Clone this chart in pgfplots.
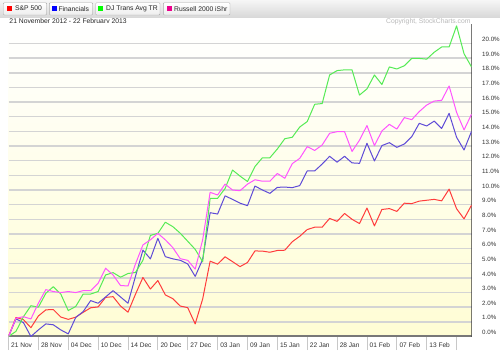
\documentclass[border=0pt]{standalone}
\usepackage{fontspec}
\setmainfont{Liberation Sans}
\usepackage{pgfplots}
\usepackage{pgfplotstable}
\pgfplotsset{compat=1.18}
\definecolor{spx}{RGB}{255,60,60}
\definecolor{fin}{RGB}{95,75,215}
\definecolor{trn}{RGB}{85,235,85}
\definecolor{rut}{RGB}{255,85,255}
\definecolor{gridc}{RGB}{212,212,212}
\definecolor{bgbot}{RGB}{255,253,212}
\definecolor{axc}{RGB}{120,120,120}
\definecolor{sepc}{RGB}{200,200,200}
\definecolor{tickc}{RGB}{50,50,50}
\definecolor{hdrtop}{RGB}{246,246,246}
\definecolor{hdrbot}{RGB}{216,216,216}
\definecolor{btnbd}{RGB}{168,168,168}
\definecolor{copyc}{RGB}{185,185,185}
\pgfplotstableread{
i spx fin trn rut
0 0 0 0 0
1 1.30 1.20 0.35 1.25
2 1.15 0.95 1.35 1.35
3 0.60 0.00 2.10 1.20
4 1.40 0.45 2.00 2.27
5 1.82 0.86 2.95 3.20
6 1.84 0.80 3.40 3.07
7 1.33 0.45 2.90 3.00
8 1.17 0.18 1.77 3.07
9 1.32 1.30 2.05 3.00
10 1.65 1.70 2.90 3.13
11 1.96 2.45 2.90 3.13
12 2.02 2.27 3.07 3.63
13 2.67 2.70 4.20 4.66
14 2.72 3.13 4.36 4.20
15 2.08 2.70 4.05 3.48
16 1.66 2.27 4.30 3.45
17 2.88 4.10 4.37 4.95
18 4.03 5.90 5.20 6.25
19 3.24 5.30 6.90 6.60
20 3.82 6.70 7.04 7.04
21 2.84 5.45 7.80 6.60
22 2.58 5.30 7.50 6.07
23 2.08 5.20 7.05 5.31
24 1.97 4.95 6.50 5.20
25 0.86 4.10 5.95 4.60
26 2.56 5.27 5.10 6.60
27 5.14 8.45 9.43 9.84
28 4.94 8.36 9.43 9.66
29 5.44 9.60 10.10 10.40
30 5.11 9.36 11.36 10.00
31 4.77 9.10 10.95 9.95
32 5.05 8.93 10.58 10.40
33 5.84 10.27 11.60 10.70
34 5.83 10.00 12.20 10.60
35 5.75 9.77 12.20 10.60
36 5.87 10.18 12.80 11.13
37 5.89 10.20 13.50 10.80
38 6.47 10.16 13.60 11.80
39 6.84 10.30 14.30 12.16
40 7.30 11.30 14.67 12.96
41 7.46 11.30 15.85 12.70
42 7.46 11.77 15.90 13.07
43 8.06 12.30 17.85 13.87
44 7.86 11.90 18.15 13.98
45 8.40 12.30 18.20 13.98
46 8.00 11.85 18.20 12.63
47 7.71 11.82 16.48 13.40
48 8.77 13.19 16.90 14.40
49 7.55 11.98 17.85 13.03
50 8.67 13.03 17.20 14.03
51 8.73 13.23 18.40 14.48
52 8.54 12.91 18.26 14.16
53 9.10 13.14 18.48 14.94
54 9.07 13.64 18.98 14.80
55 9.24 14.55 18.98 15.35
56 9.30 14.37 18.93 15.80
57 9.36 14.70 19.40 16.07
58 9.26 14.20 19.76 16.12
59 10.06 15.23 19.76 17.10
60 8.72 13.60 21.20 15.30
61 8.03 12.73 19.30 14.10
62 8.96 14.00 18.40 15.17
}\datatable
\newcommand{\sm}{\fontsize{6.8}{8}\selectfont}
\begin{document}
\begin{tikzpicture}[x=1bp,y=1bp]
\useasboundingbox[fill=white] (-8.5,-19.5) rectangle (491.5,336.5);
% header bar
\shade[top color=hdrtop,bottom color=hdrbot] (-8.5,319) rectangle (491.5,336.5);
% buttons
\foreach \xa/\xb/\sq/\tx/\col/\lab in {-5.2/38.2/-1.8/6.5/red/{S\&P 500},40.8/84.2/43.8/49.8/blue/{Financials},87.2/151.5/89.8/97.5/green/{DJ Trans Avg TR},154.8/221.5/158.2/165.5/magenta/{Russell 2000 iShr}}{
  \shade[top color=white,bottom color=black!7,draw=btnbd,rounded corners=1bp] (\xa,321.5) rectangle (\xb,333.8);
  \fill[\col] (\sq,325.6) rectangle ++(5,5);
  \node[anchor=west,inner sep=0pt,font=\sm,text=black!85] at (\tx,327.9) {\lab};
}
\node[anchor=west,inner sep=0pt,font=\sm,text=black!85] at (0.8,314.8) {21 November 2012 - 22 February 2013};
\begin{axis}[at={(0,0)},anchor=south west,scale only axis,
  width=463bp,height=312.5bp,
  xmin=0,xmax=62,ymin=0,ymax=21.33,
  axis line style={draw=none},
  axis background/.style={top color=white,bottom color=bgbot},
  ytick={0,1,...,20},
  ymajorgrids,
  grid style={draw=gridc,line width=1.5bp},
  yticklabel pos=right,
  yticklabel={\pgfmathprintnumber[fixed,fixed zerofill,precision=1,assume math mode=true]{\tick}\%},
  yticklabel style={anchor=west,inner sep=0pt,xshift=-3bp,yshift=4bp,font=\fontsize{6.2}{7}\selectfont,text=tickc},
  ytick style={draw=none},
  xtick={0,4,...,60},
  xticklabels={21 Nov,28 Nov,04 Dec,10 Dec,14 Dec,20 Dec,27 Dec,03 Jan,09 Jan,15 Jan,22 Jan,28 Jan,01 Feb,07 Feb,13 Feb,{}},
  xtick pos=bottom,
  tick align=outside,
  major tick length=13.5bp,
  xtick style={draw=sepc,line width=0.8bp},
  xticklabel style={anchor=west,inner sep=0pt,xshift=2.5bp,yshift=5bp,font=\fontsize{6.6}{7}\selectfont,text=tickc},
  every axis plot/.append style={line width=1bp,line join=round},
]
\draw[draw=axc,line width=2.5bp] (rel axis cs:0,0) -- (rel axis cs:1,0);
\draw[draw=black!80,line width=0.9bp] (rel axis cs:1,0) -- (rel axis cs:1,1);
\addplot[spx,mark=none] table[x=i,y=spx] {\datatable};
\addplot[fin,mark=none] table[x=i,y=fin] {\datatable};
\addplot[trn,mark=none] table[x=i,y=trn] {\datatable};
\addplot[rut,mark=none] table[x=i,y=rut] {\datatable};
\end{axis}
\node[anchor=east,inner sep=0pt,font=\sm,text=copyc] at (462.2,314.8) {Copyright, StockCharts.com};
\end{tikzpicture}
\end{document}
